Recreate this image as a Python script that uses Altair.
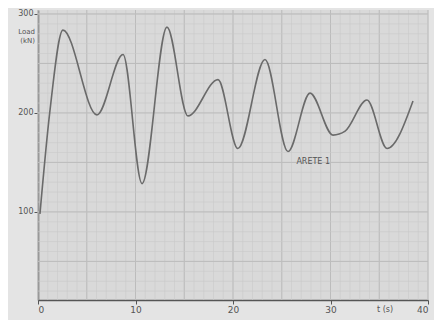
import altair as alt
import pandas as pd

# curve (t in s, load value)
t_vals = [0.2, 1.2, 2.56, 6.05, 8.72, 10.67, 13.23, 15.38, 18.46, 20.5, 23.28,
          25.64, 27.9, 30.26, 31.5, 33.74, 35.8, 38.46]
y_vals = [98, 200, 283.7, 198, 259, 128.6, 286.7, 197, 233.7, 164, 254,
          161, 220, 177.6, 181.6, 213, 164, 212]

x_ticks = [0, 10, 20, 30, 40]
y_ticks = [100, 200, 300]
curve_label = "ARETE 1"
x_title = "t (s)"
y_title = ["Load", "(kN)"]

XMIN, XMAX = 0, 40
YMIN, YMAX = 11, 304

df = pd.DataFrame({"t": t_vals, "y": y_vals})

minor_x = pd.DataFrame({"v": [i for i in range(XMIN, XMAX + 1)]})
major_x = pd.DataFrame({"v": [i for i in range(XMIN, XMAX + 1, 5)]})
minor_y = pd.DataFrame({"v": [i for i in range(20, 301, 10)]})
major_y = pd.DataFrame({"v": [i for i in range(50, 301, 50)]})

xs = alt.Scale(domain=[XMIN, XMAX], nice=False, zero=False)
ys = alt.Scale(domain=[YMIN, YMAX], nice=False, zero=False)

x_axis = alt.Axis(values=x_ticks, title=None, grid=False,
                  domainColor="#555555", domainWidth=1.5,
                  tickColor="#555555", tickSize=4,
                  labelColor="#555555", labelFontSize=9,
                  labelFont="DejaVu Sans", labelPadding=1)
y_axis = alt.Axis(values=y_ticks, title=None, grid=False,
                  domainColor="#555555", domainWidth=1.5,
                  tickColor="#555555", tickSize=4,
                  labelColor="#555555", labelFontSize=8,
                  labelFont="DejaVu Sans", labelPadding=1)


def X(f):
    return alt.X(f, type="quantitative", scale=xs, axis=x_axis)


def Y(f):
    return alt.Y(f, type="quantitative", scale=ys, axis=y_axis)


xr_minor = alt.Chart(minor_x).mark_rule(color="#cacaca", strokeWidth=0.6).encode(x=X("v"))
xr_major = alt.Chart(major_x).mark_rule(color="#bcbcbc", strokeWidth=1.0).encode(x=X("v"))
yr_minor = alt.Chart(minor_y).mark_rule(color="#cacaca", strokeWidth=0.6).encode(y=Y("v"))
yr_major = alt.Chart(major_y).mark_rule(color="#bcbcbc", strokeWidth=1.0).encode(y=Y("v"))

line = alt.Chart(df).mark_line(color="#6a6a6a", strokeWidth=1.6, interpolate="monotone").encode(
    x=X("t"), y=Y("y"))

lbl = alt.Chart(pd.DataFrame({"t": [26.5], "y": [150], "s": [curve_label]})).mark_text(
    fontSize=8, color="#555555", align="left", font="DejaVu Sans").encode(
    x=X("t"), y=Y("y"), text="s:N")

xt = alt.Chart(pd.DataFrame({"t": [35.6], "y": [YMIN], "s": [x_title]})).mark_text(
    fontSize=8, color="#555555", align="center", baseline="top", dy=6, font="DejaVu Sans").encode(
    x=X("t"), y=Y("y"), text="s:N")

yt = alt.Chart(pd.DataFrame({"t": [XMIN], "y": [282], "s": [y_title]})).mark_text(
    fontSize=7, color="#555555", align="right", dx=-3, lineHeight=9, font="DejaVu Sans").encode(
    x=X("t"), y=Y("y"), text="s")

chart = alt.layer(xr_minor, xr_major, yr_minor, yr_major, line, lbl, xt, yt).properties(
    width=390, height=290,
    autosize=alt.AutoSizeParams(type="none"),
    padding={"left": 30, "top": 2, "right": 6, "bottom": 20},
    background="#e4e4e4",
).configure_view(fill="#d9d9d9", stroke=None)

chart.save("out.html", embed_options={"renderer": "svg", "actions": False})
